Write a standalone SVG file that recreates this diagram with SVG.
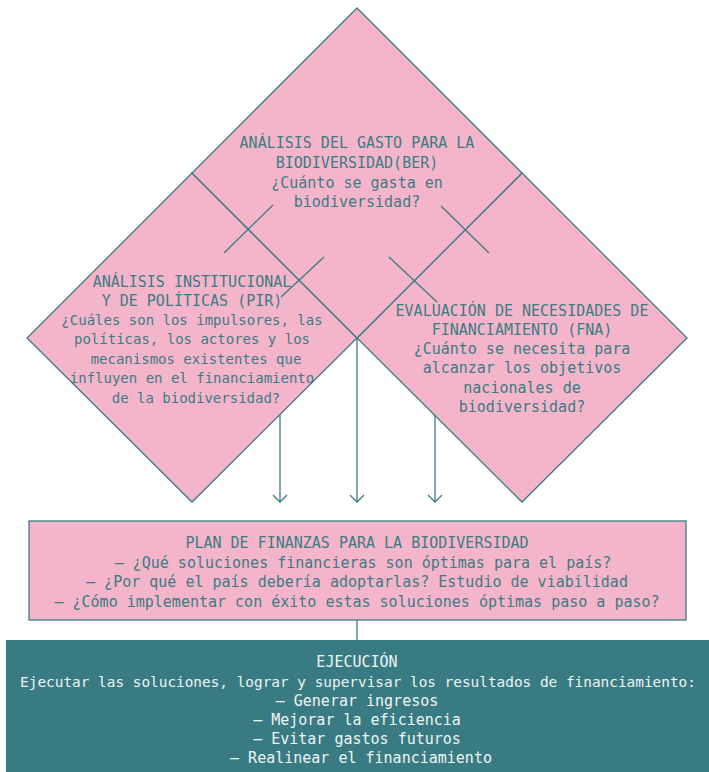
<svg xmlns="http://www.w3.org/2000/svg" width="709" height="772" viewBox="0 0 709 772">
<defs>
<style>
.dia{fill:#F4B5CB;stroke:#3B7C83;stroke-width:1.3}
.ln{fill:none;stroke:#3B7C83;stroke-width:1.3}
.t{font-family:"DejaVu Sans Mono","Liberation Mono",monospace;font-size:15px;fill:#3B7C83;text-anchor:middle}
.s{font-size:14px}
.w{fill:#EEF4F4}
</style>
<marker id="arr" markerWidth="16" markerHeight="16" refX="8" refY="8" orient="auto" markerUnits="userSpaceOnUse">
<path d="M1,1 L8,8 L1,15" fill="none" stroke="#3B7C83" stroke-width="1.3"/>
</marker>
</defs>
<rect width="709" height="772" fill="#FFFFFF"/>
<g id="pir">
<polygon class="dia" points="192,173 357,338 192,502 27,338"/>
</g>
<g id="fna">
<polygon class="dia" points="522,173 687,338 522,502 357,338"/>
</g>
<g id="ber">
<polygon class="dia" points="357,8 522,173 357,338 192,173"/>
</g>
<g id="ber-text">
<text class="t" x="357" y="148">ANÁLISIS DEL GASTO PARA LA</text>
<text class="t" x="357" y="168">BIODIVERSIDAD(BER)</text>
<text class="t" x="357" y="188">¿Cuánto se gasta en</text>
<text class="t" x="357" y="207">biodiversidad?</text>
</g>
<g id="pir-text">
<text class="t" x="192" y="287">ANÁLISIS INSTITUCIONAL</text>
<text class="t" x="192" y="306">Y DE POLÍTICAS (PIR)</text>
<text class="t s" x="192" y="325">¿Cuáles son los impulsores, las</text>
<text class="t s" x="192" y="344">políticas, los actores y los</text>
<text class="t s" x="196" y="364">mecanismos existentes que</text>
<text class="t s" x="192" y="383">influyen en el financiamiento</text>
<text class="t s" x="196" y="403">de la biodiversidad?</text>
</g>
<g id="fna-text">
<text class="t" x="522" y="316">EVALUACIÓN DE NECESIDADES DE</text>
<text class="t" x="522" y="335">FINANCIAMIENTO (FNA)</text>
<text class="t" x="522" y="354">¿Cuánto se necesita para</text>
<text class="t" x="522" y="373">alcanzar los objetivos</text>
<text class="t" x="522" y="393">nacionales de</text>
<text class="t" x="522" y="412">biodiversidad?</text>
</g>
<g id="plan">
<rect x="29" y="521" width="657" height="99" fill="#F4B5CB" stroke="#3B7C83" stroke-width="1.3"/>
<text class="t" x="357" y="548">PLAN DE FINANZAS PARA LA BIODIVERSIDAD</text>
<text class="t" x="363" y="568">— ¿Qué soluciones financieras son óptimas para el país?</text>
<text class="t" x="357" y="587">— ¿Por qué el país debería adoptarlas? Estudio de viabilidad</text>
<text class="t" x="357" y="607">— ¿Cómo implementar con éxito estas soluciones óptimas paso a paso?</text>
</g>
<g id="ejecucion">
<rect x="6" y="640" width="703" height="132" fill="#397B82"/>
<text class="t w" x="357" y="667">EJECUCIÓN</text>
<text class="t w" x="358" y="687" style="font-size:14.4px">Ejecutar las soluciones, lograr y supervisar los resultados de financiamiento:</text>
<text class="t w" x="357" y="706">— Generar ingresos</text>
<text class="t w" x="357" y="725">— Mejorar la eficiencia</text>
<text class="t w" x="357" y="744">— Evitar gastos futuros</text>
<text class="t w" x="361" y="763">— Realinear el financiamiento</text>
</g>
<g id="connectors">
<line class="ln" x1="224" y1="253" x2="273" y2="205"/>
<line class="ln" x1="281" y1="297" x2="324" y2="257"/>
<line class="ln" x1="441" y1="206" x2="489" y2="253"/>
<line class="ln" x1="389" y1="257" x2="437" y2="302"/>
<line class="ln" x1="280" y1="415" x2="280" y2="502" marker-end="url(#arr)"/>
<line class="ln" x1="357" y1="338" x2="357" y2="502" marker-end="url(#arr)"/>
<line class="ln" x1="435" y1="415" x2="435" y2="502" marker-end="url(#arr)"/>
<line class="ln" x1="357" y1="620" x2="357" y2="640"/>
</g>
</svg>
